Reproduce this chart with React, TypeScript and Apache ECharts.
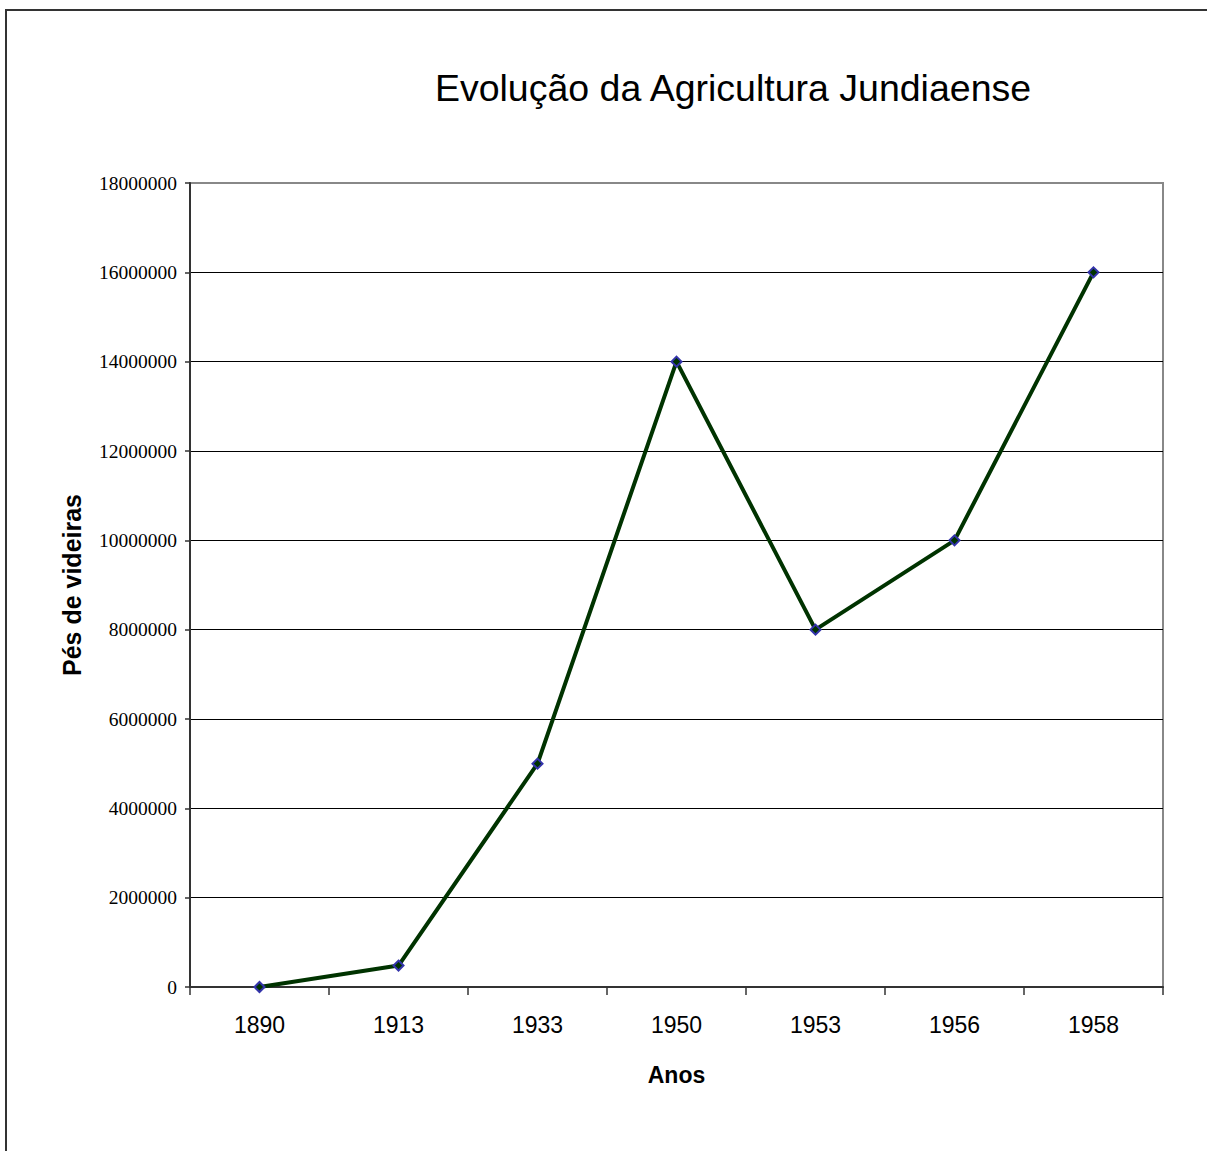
import React, { useEffect, useRef } from "react";
import * as echarts from "echarts";

const categories = ["1890", "1913", "1933", "1950", "1953", "1956", "1958"];
const values = [0, 480000, 5000000, 14000000, 8000000, 10000000, 16000000];
const title = "Evolução da Agricultura Jundiaense";
const xName = "Anos";
const yName = "Pés de videiras";

export default function App() {
  const ref = useRef<HTMLDivElement>(null);
  useEffect(() => {
    if (!ref.current) return;
    const chart = echarts.init(ref.current, null, { renderer: "svg" });
    const splitColors = ["#000", "#000", "#000", "#000", "#000", "#000", "#000", "#000", "#000", "#888"];
    chart.setOption({
      animation: false,
      backgroundColor: "#ffffff",
      title: {
        text: title,
        left: 728,
        top: 64,
        textAlign: "center",
        textStyle: { fontFamily: "Liberation Sans, Arial", fontSize: 37.5, fontWeight: "normal", color: "#000" },
      },
      graphic: [
        {
          type: "rect",
          shape: { x: 6, y: 10, width: 1220, height: 1160 },
          style: { fill: "none", stroke: "#333", lineWidth: 2 },
          silent: true,
        },
      ],
      grid: {
        left: 190,
        top: 183,
        right: 44,
        bottom: 164,
        show: true,
        borderColor: "#888",
        borderWidth: 2,
        backgroundColor: "transparent",
      },
      xAxis: {
        type: "category",
        data: categories,
        boundaryGap: true,
        name: xName,
        nameLocation: "middle",
        nameGap: 76,
        nameTextStyle: { fontFamily: "Liberation Sans, Arial", fontSize: 23, fontWeight: "bold", color: "#000" },
        axisLine: { lineStyle: { color: "#333", width: 2 } },
        axisTick: { show: true, length: 8, lineStyle: { color: "#333", width: 1.5 } },
        axisLabel: { fontFamily: "Liberation Sans, Arial", fontSize: 23, color: "#000", margin: 26 },
        splitLine: { show: false },
      },
      yAxis: {
        type: "value",
        min: 0,
        max: 18000000,
        interval: 2000000,
        name: yName,
        nameLocation: "middle",
        nameGap: 106,
        nameRotate: 90,
        nameTextStyle: { fontFamily: "Liberation Sans, Arial", fontSize: 25, fontWeight: "bold", color: "#000" },
        axisLine: { show: true, lineStyle: { color: "#333", width: 2 } },
        axisTick: { show: true, length: 5, lineStyle: { color: "#333", width: 1.5 } },
        axisLabel: {
          fontFamily: "Liberation Serif, Times New Roman",
          fontSize: 19.5,
          color: "#000",
          margin: 13,
          formatter: (v: number) => String(v),
        },
        splitLine: { show: true, lineStyle: { color: splitColors, width: 1 } },
      },
      series: [
        {
          type: "line",
          data: values,
          symbol: "diamond",
          symbolSize: 10,
          showSymbol: true,
          lineStyle: { color: "#003300", width: 4 },
          itemStyle: { color: "#003300", borderColor: "#3333aa", borderWidth: 2 },
          z: 5,
        },
      ],
    });
    return () => chart.dispose();
  }, []);
  return (
    <div
      ref={ref}
      style={{ position: "absolute", left: 0, top: 0, width: 1207, height: 1151 }}
    />
  );
}
